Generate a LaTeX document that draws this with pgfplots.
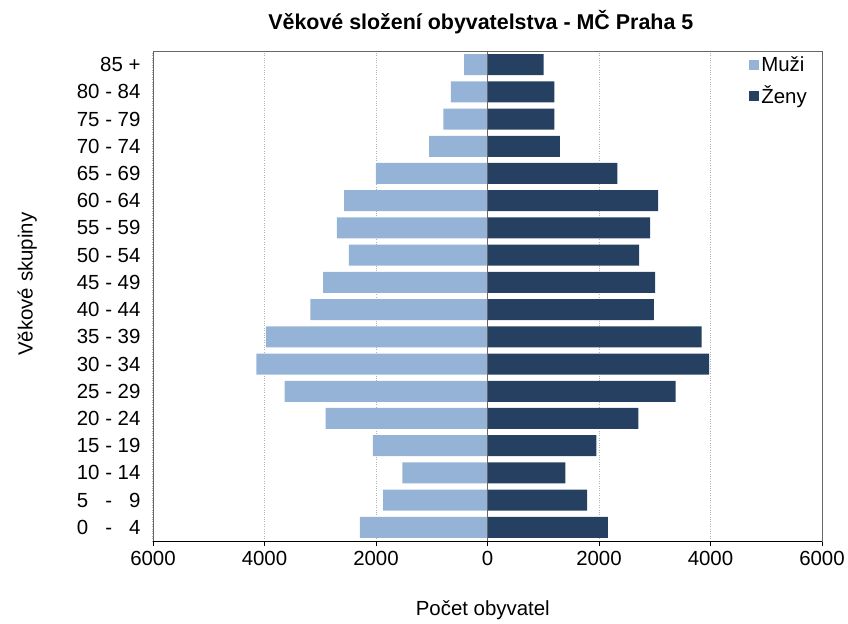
\documentclass[border=0pt]{standalone}
\usepackage{pgfplots}
\pgfplotsset{compat=1.18}
\usepackage{fontspec}
\setmainfont{Liberation Sans}

\definecolor{muzi}{HTML}{95B3D7}
\definecolor{zeny}{HTML}{254061}

% age groups from the youngest (y = 0) up
\newcommand{\skupiny}{{0\ \ \ -\ \ \ 4},{5\ \ \ -\ \ \ 9},{10 - 14},{15 - 19},{20 - 24},{25 - 29},{30 - 34},{35 - 39},{40 - 44},{45 - 49},{50 - 54},{55 - 59},{60 - 64},{65 - 69},{70 - 74},{75 - 79},{80 - 84},{85 +}}

\begin{document}
\begin{tikzpicture}[font=\fontsize{20.5}{24}\selectfont]
\useasboundingbox (-153bp,-83bp) rectangle (695bp,541bp);
\begin{axis}[
  scale only axis,
  width=669bp, height=490bp,
  xmin=-6000, xmax=6000,
  ymin=-0.5, ymax=17.5,
  xtick={-6000,-4000,-2000,0,2000,4000,6000},
  xticklabels={6000,4000,2000,0,2000,4000,6000},
  ytick={0,...,17},
  yticklabels/.expand once=\skupiny,
  xtick pos=bottom,
  tick align=outside,
  major tick length=5bp,
  xtick style={black, line width=0.8pt},
  ytick style={draw=none},
  xticklabel style={yshift=-2bp},
  yticklabel style={xshift=-4bp},
  xmajorgrids,
  grid style={dotted, gray!60, line width=1pt},
  axis line style={gray!80!black, line width=0.8pt},
  title={\bfseries Věkové složení obyvatelstva - MČ Praha 5},
  title style={at={(axis description cs:0.49,1.047)}, anchor=center, font=\fontsize{21.5}{25}\selectfont},
  xlabel={Počet obyvatel},
  xlabel style={at={(axis description cs:0.493,-0.141)}, anchor=center},
  ylabel={Věkové skupiny},
  ylabel style={at={(axis description cs:-0.188,0.524)}, anchor=center, rotate=0},
  legend style={at={(axis description cs:0.982,0.995)}, anchor=north east,
    draw=none, fill=none, row sep=9bp, inner sep=1bp,
    /tikz/every even column/.append style={column sep=0bp}},
  legend cell align=left,
  legend image code/.code={\fill[#1] (2bp,-5bp) rectangle (12bp,5bp);},
]
\addplot[xbar, bar width=21bp, bar shift=0pt, fill=muzi, draw=none] coordinates {
  (-2290,0) (-1870,1) (-1525,2) (-2055,3) (-2905,4) (-3640,5)
  (-4145,6) (-3975,7) (-3175,8) (-2950,9) (-2485,10) (-2700,11)
  (-2570,12) (-2000,13) (-1045,14) (-790,15) (-655,16) (-420,17)
};
\addlegendentry{Muži}
\addplot[xbar, bar width=21bp, bar shift=0pt, fill=zeny, draw=none] coordinates {
  (2160,0) (1785,1) (1395,2) (1955,3) (2705,4) (3375,5)
  (3975,6) (3840,7) (2985,8) (3005,9) (2720,10) (2915,11)
  (3060,12) (2330,13) (1300,14) (1200,15) (1200,16) (1005,17)
};
\addlegendentry{Ženy}
\draw[gray!80!black, line width=0.8pt] (axis cs:0,-0.5) -- (axis cs:0,17.5);
\draw[black, line width=0.8pt] (axis cs:-6000,-0.5) -- (axis cs:6000,-0.5);
\end{axis}
\end{tikzpicture}
\end{document}
